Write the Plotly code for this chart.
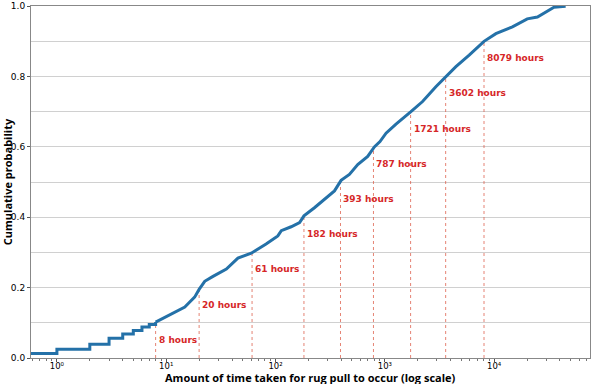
import numpy as np
import plotly.graph_objects as go

hours = [0.5, 1, 2, 3, 4, 5, 6, 7, 8,
         10, 12.4, 14.8, 16.5, 18.2, 20, 22.5, 26.8, 35.5, 45.3, 60, 82, 105,
         113, 139, 166, 182, 227, 290, 346, 398, 474, 565, 697, 802, 903,
         1026, 1265, 1733, 2214, 2930, 3670, 4470, 5910, 7550, 8079,
         10370, 14700, 20100, 24900, 35300, 45100]
cdf = [0.013, 0.025, 0.039, 0.056, 0.068, 0.078, 0.088, 0.095, 0.102,
       0.117, 0.131, 0.145, 0.160, 0.173, 0.195, 0.218, 0.232, 0.253, 0.284, 0.298, 0.324, 0.347,
       0.362, 0.373, 0.385, 0.404, 0.427, 0.456, 0.475, 0.505, 0.522, 0.550, 0.573, 0.600, 0.615,
       0.639, 0.665, 0.700, 0.729, 0.771, 0.800, 0.828, 0.861, 0.893, 0.900,
       0.922, 0.941, 0.964, 0.969, 0.997, 1.000]
n_step = 9  # first points drawn as steps

decile_hours = [8, 20, 61, 182, 393, 787, 1721, 3602, 8079]
decile_levels = [0.1, 0.2, 0.3, 0.4, 0.5, 0.6, 0.7, 0.8, 0.9]

x_tickvals = [1, 10, 100, 1000, 10000]
x_ticktext = ["10\u2070", "10\u00b9", "10\u00b2", "10\u00b3", "10\u2074"]
x_minor_tickvals = [m * 10 ** e for e in range(-1, 5) for m in range(2, 10)]
y_tickvals = [0.0, 0.2, 0.4, 0.6, 0.8, 1.0]
y_ticktext = ["0.0", "0.2", "0.4", "0.6", "0.8", "1.0"]
y_minor_tickvals = [0.1, 0.3, 0.5, 0.7, 0.9]

x_title = "Amount of time taken for rug pull to occur (log scale)"
y_title = "Cumulative probability"

LINE = "#2471a8"
RED = "#d62728"

fig = go.Figure()

for h, lv in zip(decile_hours, decile_levels):
    fig.add_trace(go.Scatter(x=[h, h], y=[0, lv], mode="lines",
                             line=dict(color="rgba(220,90,70,0.75)", width=1, dash="dot"),
                             hoverinfo="skip", showlegend=False))

fig.add_trace(go.Scatter(x=hours[:n_step], y=cdf[:n_step], mode="lines",
                         line=dict(color=LINE, width=3, shape="hv"), showlegend=False))
fig.add_trace(go.Scatter(x=hours[n_step - 1:], y=cdf[n_step - 1:], mode="lines",
                         line=dict(color=LINE, width=3), showlegend=False))

for h, lv in zip(decile_hours, decile_levels):
    fig.add_annotation(x=np.log10(h), y=lv - 0.048, xref="x", yref="y",
                       text=f"<b>{h} hours</b>", showarrow=False,
                       xanchor="left", yanchor="middle", xshift=1,
                       font=dict(family="DejaVu Sans", size=9, color=RED))

fig.add_annotation(x=0.5, y=0, xref="paper", yref="paper", text=f"<b>{x_title}</b>",
                   showarrow=False, xanchor="center", yanchor="middle", yshift=-19,
                   borderpad=0,
                   font=dict(family="Open Sans", size=11, color="black"))

fig.update_layout(
    width=592, height=384,
    margin=dict(l=31, r=1, t=4, b=26),
    plot_bgcolor="white", paper_bgcolor="white",
    xaxis=dict(type="log", range=[-0.237, 4.877],
               tickmode="array", tickvals=x_tickvals, ticktext=x_ticktext,
               tickfont=dict(family="DejaVu Sans", size=8.5, color="black"),
               ticklabelstandoff=-3,
               ticks="outside", ticklen=3, tickcolor="#555",
               showgrid=False, showline=True, linecolor="#888", mirror=True,
               minor=dict(tickmode="array", tickvals=x_minor_tickvals,
                          ticks="outside", ticklen=2, tickcolor="#777", showgrid=False),
               zeroline=False),
    yaxis=dict(range=[0, 1.0005], tickmode="array", tickvals=y_tickvals, ticktext=y_ticktext,
               tickfont=dict(family="DejaVu Sans", size=9, color="black"),
               ticklabeloverflow="allow",
               ticks="outside", ticklen=3, tickcolor="#555",
               showgrid=True, gridcolor="#d0d0d0", gridwidth=1,
               minor=dict(tickmode="array", tickvals=y_minor_tickvals, ticks="",
                          showgrid=True, gridcolor="#d0d0d0", gridwidth=1),
               showline=True, linecolor="#888", mirror=True,
               title=dict(text=f"<b>{y_title}</b>",
                          font=dict(family="Open Sans", size=11, color="black"), standoff=1),
               zeroline=False),
)

fig.write_html("out.html")
